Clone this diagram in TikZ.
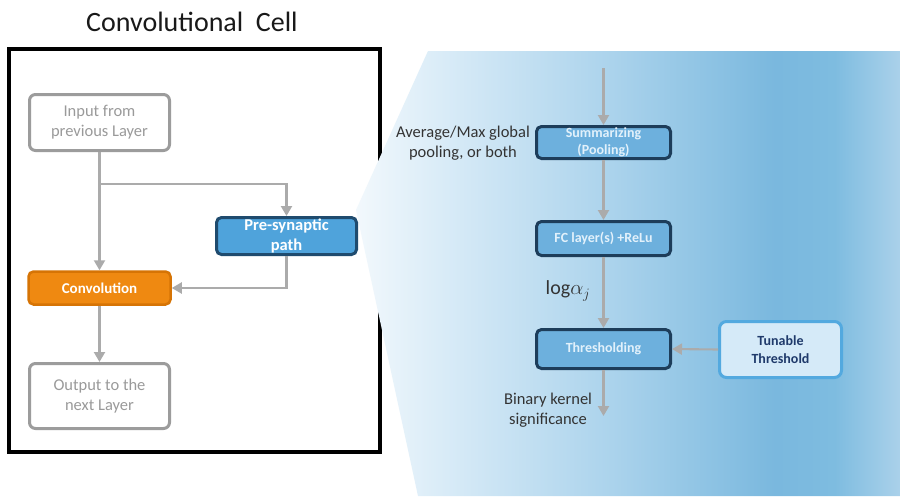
\documentclass[tikz,border=0pt]{standalone}
\usepackage{fontspec}
\setmainfont{Carlito}
\usetikzlibrary{arrows.meta}

% palette
\definecolor{framegray}{HTML}{9C9C9C}
\definecolor{textgray}{HTML}{9A9A9A}
\definecolor{arrowgray}{HTML}{ABABAB}
\definecolor{presyn}{HTML}{4FA3DB}
\definecolor{presynedge}{HTML}{1F4B6E}
\definecolor{convfill}{HTML}{EF8911}
\definecolor{convedge}{HTML}{D67405}
\definecolor{stepfill}{HTML}{6DB0DD}
\definecolor{stepedge}{HTML}{1D3D5A}
\definecolor{steptext}{HTML}{E2F1FB}
\definecolor{tunfill}{HTML}{D5EAF8}
\definecolor{tunedge}{HTML}{53A9DF}
\definecolor{tuntext}{HTML}{1F3A6B}
\definecolor{labeltext}{HTML}{333333}
\definecolor{pA}{HTML}{F2F8FC}
\definecolor{pB}{HTML}{DCEDF8}
\definecolor{pC}{HTML}{ABD3EC}
\definecolor{pD}{HTML}{7AB8DE}
\definecolor{pE}{HTML}{7EBCE0}
\definecolor{pF}{HTML}{AAD1EA}

% background panel shading, left (light) to right
\pgfdeclarehorizontalshading{panelshade}{100bp}{%
  color(0bp)=(pA); color(25bp)=(pA); color(32bp)=(pB); color(48.5bp)=(pC);
  color(63.5bp)=(pD); color(69bp)=(pE); color(75bp)=(pF); color(100bp)=(pF)}

\tikzset{
  graybox/.style={draw=framegray, line width=3pt, fill=white, rounded corners=6pt,
    text=textgray, align=center, font=\fontsize{16.5}{20}\selectfont,
    minimum width=140pt, inner sep=0pt},
  presynbox/.style={draw=presynedge, line width=3pt, fill=presyn, rounded corners=5pt,
    text=white, align=center, font=\bfseries\fontsize{16.5}{19.5}\selectfont,
    minimum width=140pt, minimum height=37pt, inner sep=0pt},
  convbox/.style={draw=convedge, line width=2.5pt, fill=convfill, rounded corners=5pt,
    text=white, align=center, font=\bfseries\fontsize{15}{18}\selectfont,
    minimum width=142pt, minimum height=33pt, inner sep=0pt},
  stepbox/.style={draw=stepedge, line width=3pt, fill=stepfill, rounded corners=5pt,
    text=steptext, align=center, font=\bfseries\fontsize{14}{17}\selectfont,
    minimum width=134pt, inner sep=0pt},
  tunbox/.style={draw=tunedge, line width=3pt, fill=tunfill, rounded corners=7pt,
    text=tuntext, align=center, font=\bfseries\fontsize{14}{17.5}\selectfont,
    minimum width=122pt, minimum height=56pt, inner sep=0pt},
  note/.style={text=labeltext, align=center, font=\fontsize{16.5}{20}\selectfont, inner sep=0pt},
  arr/.style={draw=arrowgray, line width=2.1pt, -{Triangle[length=10pt,width=11pt]}},
}

\begin{document}
\begin{tikzpicture}[x=1pt, y=-1pt]
\useasboundingbox (0,0) rectangle (909,496);
\fill[white] (0,0) rectangle (909,496);

% title
\node[text=black!90, font=\fontsize{28}{32}\selectfont, inner sep=0pt] (title) at (192,22) {Convolutional\ \ Cell};

% cell frame
\draw[line width=3.2pt, black] (9,49) rectangle (380,452);

% expanded detail panel
\shade[shading=panelshade] (428,51) -- (356,210) -- (418,496) -- (900,496) -- (900,51) -- cycle;

% cell contents
\node[graybox, minimum height=56pt] (in) at (99.5,122.5) {Input from\\previous Layer};
\node[presynbox] (pre) at (286.5,236) {Pre-synaptic\\path};
\node[convbox] (conv) at (99.5,288) {Convolution};
\node[graybox, minimum height=65pt] (out) at (99.5,396) {Output to the\\next Layer};

\coordinate (split) at (99.5,184);
\draw[arr] (in.south) -- (conv.north);
\draw[arr] (split) -| (pre.north);
\draw[arr] (pre.south) |- (conv.east);
\draw[arr] (conv.south) -- (out.north);

% kernel-significance branch
\node[stepbox, minimum height=32pt] (summ) at (603.5,142.5) {Summarizing\\(Pooling)};
\node[stepbox, minimum height=34pt] (fc) at (603.5,238.5) {FC layer(s) +ReLu};
\node[stepbox, minimum height=39pt] (thr) at (603.5,349) {Thresholding};
\node[tunbox] (tun) at (780.5,349.5) {Tunable\\Threshold};

\node[note] (pooltxt) at (463,143) {Average/Max global\\pooling, or both};
\node[text=labeltext, font=\fontsize{20}{24}\selectfont, inner sep=0pt] (logtxt) at (568,291) {log$\alpha_j$};
\node[note] (bintxt) at (548,410) {Binary kernel\\significance};

\coordinate (feed) at (603.5,68);
\coordinate (result) at (603.5,416);
\draw[arr] (feed) -- (summ.north);
\draw[arr] (summ.south) -- (fc.north);
\draw[arr] (fc.south) -- (thr.north);
\draw[arr] (tun.west) -- (thr.east);
\draw[arr] (thr.south) -- (result);
\end{tikzpicture}
\end{document}
